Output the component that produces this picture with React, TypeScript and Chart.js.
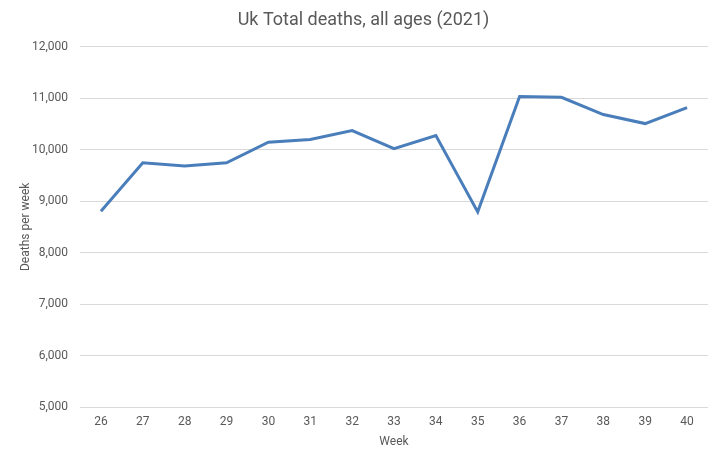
import React, { useEffect, useRef } from "react";
import { Chart, registerables } from "chart.js";

Chart.register(...registerables);

const weeks = ["26", "27", "28", "29", "30", "31", "32", "33", "34", "35", "36", "37", "38", "39", "40"];
const deaths = [8802, 9742, 9683, 9742, 10142, 10194, 10369, 10019, 10272, 8790, 11029, 11016, 10680, 10505, 10816];
const titleText = "Uk Total deaths, all ages (2021)";
const yTitle = "Deaths per week";
const xTitle = "Week";

export default function App() {
  const ref = useRef<HTMLCanvasElement>(null);
  useEffect(() => {
    document.body.style.margin = "0";
    const font = "Roboto, 'Noto Sans', sans-serif";
    const chart = new Chart(ref.current!, {
      type: "line",
      data: {
        labels: weeks,
        datasets: [
          {
            data: deaths,
            borderColor: "#4a7ebb",
            borderWidth: 3,
            pointRadius: 0,
            tension: 0,
            fill: false,
          },
        ],
      },
      options: {
        animation: false,
        responsive: false,
        maintainAspectRatio: false,
        layout: { padding: { left: 19, right: 12, top: 0, bottom: 8 } },
        plugins: {
          legend: { display: false },
          tooltip: { enabled: false },
          title: {
            display: true,
            text: titleText,
            color: "#595959",
            font: { family: font, size: 18, weight: "normal" },
            padding: { top: 10, bottom: 15 },
          },
        },
        scales: {
          x: {
            offset: true,
            grid: { display: false, drawTicks: false },
            border: { display: false },
            ticks: { color: "#595959", font: { family: font, size: 12 }, padding: 8 },
            title: {
              display: true,
              text: xTitle,
              color: "#595959",
              font: { family: font, size: 12 },
              padding: { top: 4, bottom: 0 },
            },
            afterFit: (s: any) => {
              s.height = 42;
            },
          },
          y: {
            min: 5000,
            max: 12000,
            grid: { color: "#d9d9d9", drawTicks: false, lineWidth: 1 },
            border: { display: false },
            ticks: {
              stepSize: 1000,
              color: "#595959",
              font: { family: font, size: 12 },
              padding: 12,
              callback: (v: any) => Number(v).toLocaleString("en-US"),
            },
            title: {
              display: true,
              text: yTitle,
              color: "#595959",
              font: { family: font, size: 12 },
              padding: { top: 0, bottom: 4 },
            },
            afterFit: (s: any) => {
              s.width = 61;
            },
          },
        },
      },
    });
    return () => chart.destroy();
  }, []);
  return <canvas ref={ref} width={720} height={457} style={{ display: "block" }} />;
}
